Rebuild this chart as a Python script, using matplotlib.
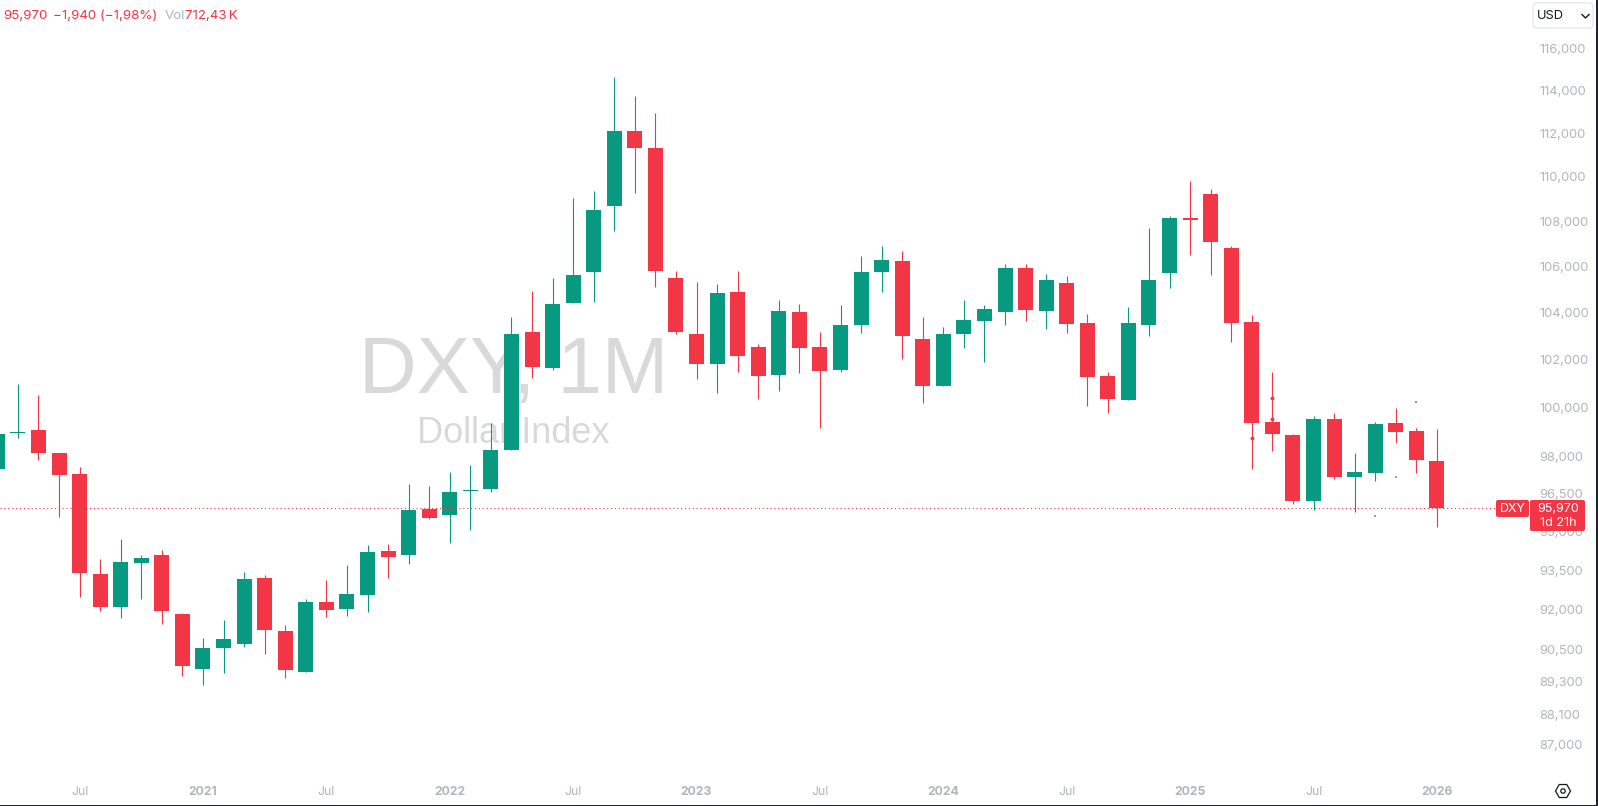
import numpy as np
import pandas as pd
import matplotlib
matplotlib.use('Agg')
import matplotlib.pyplot as plt
from matplotlib.patches import FancyBboxPatch, RegularPolygon, Circle, Rectangle
from matplotlib.lines import Line2D
from matplotlib.ticker import NullLocator
from matplotlib.transforms import IdentityTransform, ScaledTranslation

# monthly candles, Mar 2020 to Jan 2026
months = pd.date_range('2020-03-01', periods=71, freq='MS')

opens = [97.53, 98.99, 99.11, 98.17, 97.32, 93.38, 92.11, 93.80, 94.11, 91.85, 89.78, 90.56,
         90.71, 93.23, 91.20, 89.70, 92.30, 92.04, 92.57, 94.27, 94.11, 95.92, 95.69, 96.64,
         96.72, 98.29, 103.22, 101.69, 104.45, 105.80, 108.73, 112.15, 111.36, 105.54, 103.11, 101.85,
         104.93, 102.57, 101.39, 104.06, 102.57, 101.60, 103.50, 105.80, 106.29, 102.91, 100.93, 103.11,
         103.68, 104.06, 105.98, 104.10, 105.32, 103.59, 101.35, 100.35, 103.50, 105.76, 108.17, 109.27,
         106.85, 103.63, 99.45, 98.90, 96.24, 99.57, 97.20, 97.36, 99.40, 99.07, 97.85]
highs = [99.30, 101.01, 100.56, 98.17, 97.61, 93.96, 94.74, 94.11, 94.31, 91.88, 90.97, 91.62,
         93.46, 93.34, 91.43, 92.42, 93.15, 93.73, 94.50, 94.54, 96.92, 96.84, 97.40, 97.69,
         99.40, 103.84, 104.97, 105.54, 109.09, 109.41, 114.68, 113.79, 112.99, 105.85, 105.36, 105.28,
         105.85, 102.70, 104.58, 104.40, 103.22, 104.36, 106.51, 106.94, 106.72, 103.84, 103.41, 104.58,
         104.36, 106.15, 106.15, 105.71, 105.62, 103.98, 101.52, 104.27, 107.75, 108.28, 109.85, 109.50,
         106.94, 103.94, 101.52, 98.95, 99.69, 99.81, 98.17, 99.45, 100.02, 99.20, 99.16]
lows = [97.20, 98.78, 97.89, 95.61, 92.50, 91.96, 91.70, 92.42, 91.47, 89.52, 89.19, 89.66,
        90.63, 90.37, 89.48, 89.70, 91.73, 91.77, 91.92, 93.23, 93.77, 95.53, 94.58, 95.09,
        96.60, 98.29, 101.27, 101.60, 104.45, 104.49, 107.61, 109.32, 105.14, 103.11, 101.22, 100.64,
        101.52, 100.39, 100.72, 101.47, 99.20, 101.52, 103.16, 104.93, 102.06, 100.23, 100.93, 102.53,
        101.94, 103.50, 103.68, 103.33, 103.16, 100.10, 99.81, 100.35, 103.04, 105.10, 106.55, 105.67,
        102.78, 97.53, 98.25, 96.12, 95.88, 97.12, 95.81, 97.04, 98.58, 97.36, 95.21]
closes = [98.94, 99.03, 98.17, 97.28, 93.42, 92.11, 93.84, 94.00, 91.96, 89.92, 90.56, 90.90,
          93.19, 91.24, 89.74, 92.30, 92.00, 92.61, 94.23, 94.04, 95.88, 95.57, 96.60, 96.68,
          98.29, 103.14, 101.73, 104.41, 105.67, 108.55, 112.15, 111.36, 105.85, 103.20, 101.85, 104.88,
          102.19, 101.35, 104.10, 102.53, 101.56, 103.50, 105.80, 106.33, 103.04, 100.93, 103.11, 103.72,
          104.19, 105.98, 104.14, 105.45, 103.55, 101.30, 100.39, 103.59, 105.45, 108.19, 108.10, 107.12,
          103.59, 99.40, 98.95, 96.24, 99.57, 97.20, 97.40, 99.37, 99.03, 97.91, 95.97]

# stray dots on the right side of the chart
red_dot_idx = [61, 62, 62]
red_dot_val = [98.79, 100.43, 99.57]
grey_dot_idx = [69, 68, 67]
grey_dot_val = [100.27, 97.20, 95.65]

last_price = 95.97
ytick_values = [116, 114, 112, 110, 108, 106, 104, 102, 100, 98, 96.5, 95, 93.5, 92, 90.5, 89.3, 88.1, 87]
ytick_labels = ['116,000', '114,000', '112,000', '110,000', '108,000', '106,000', '104,000', '102,000',
                '100,000', '98,000', '96,500', '95,000', '93,500', '92,000', '90,500', '89,300', '88,100', '87,000']

GREEN = '#089981'
RED = '#f23645'
GREY = '#b2b5be'
FONT = 'Inter'
W, H = 1598, 806

plt.rcParams['font.family'] = [FONT, 'DejaVu Sans']

fig = plt.figure(figsize=(W / 100, H / 100), dpi=100, facecolor='white')
pane_w, pane_h = 1528, 778
ax = fig.add_axes([0, 1 - pane_h / H, pane_w / W, pane_h / H])

x = np.arange(len(months))
o = np.array(opens)
c = np.array(closes)
colors = [RED if c[i] < o[i] else GREEN for i in x]

# watermark sits behind the candles
ax.text(514 / pane_w, 1 - 393 / pane_h, 'DXY, 1M', transform=ax.transAxes, ha='center', va='baseline',
        fontsize=57.5, color='#d9d9d9', family='Liberation Sans', zorder=1)
ax.text(513 / pane_w, 1 - 443 / pane_h, 'Dollar Index', transform=ax.transAxes, ha='center', va='baseline',
        fontsize=26, color='#d9d9d9', family='Liberation Sans', zorder=1)

ax.vlines(x, lows, highs, colors=colors, linewidth=0.8, zorder=2)
ax.bar(x, np.abs(c - o), bottom=np.minimum(o, c), width=0.73, color=colors, linewidth=0, zorder=3)
ax.scatter(red_dot_idx, red_dot_val, s=8, color=RED, linewidth=0, zorder=4)
ax.scatter(grey_dot_idx, grey_dot_val, s=1.5, color='#9598a1', linewidth=0, marker='s', zorder=4)
ax.axhline(last_price, color=RED, linewidth=0.8, linestyle=(0, (1, 2.5)), zorder=5)

ax.set_yscale('log')
ax.set_xlim(0.13, 74.43)
ax.set_ylim(85.84, 118.39)
for s in ax.spines.values():
    s.set_visible(False)

ax.yaxis.tick_right()
ax.set_yticks(ytick_values)
ax.set_yticklabels(ytick_labels)
ax.yaxis.set_minor_locator(NullLocator())
ax.tick_params(axis='y', length=0, pad=8, labelsize=9.3, labelcolor=GREY)
# labels sit a pixel above the tick level
up = ScaledTranslation(0, 1 / 100, fig.dpi_scale_trans)
for lab in ax.get_yticklabels():
    lab.set_transform(lab.get_transform() + up)

tick_pos = [i for i in x if months[i].month in (1, 7)]
tick_text = [str(months[i].year) if months[i].month == 1 else 'Jul' for i in tick_pos]
ax.set_xticks(tick_pos)
ax.set_xticklabels(tick_text)
ax.tick_params(axis='x', length=0, pad=6, labelsize=8.8, labelcolor=GREY)
for lab in ax.get_xticklabels():
    if lab.get_text() != 'Jul':
        lab.set_fontweight('bold')

# header line, positions in pixels from the top left
def px_text(px, py, s, **kw):
    fig.text(px / W, 1 - py / H, s, va='center', zorder=6, **kw)

px_text(3, 16, '95,970', color=RED, fontsize=9.6)
px_text(53, 16, '\u22121,940 (\u22121,98%)', color=RED, fontsize=9.6)
px_text(165, 16, 'Vol', color=GREY, fontsize=9.6)
px_text(185, 16, '712,43\u2009K', color=RED, fontsize=9.6)

# drawn directly in pixels
idt = IdentityTransform()
def box(x0, y0, x1, y1, face, edge='none', r=2):
    fig.add_artist(FancyBboxPatch((x0 + r, H - y1 + r), x1 - x0 - 2 * r, y1 - y0 - 2 * r,
                                  boxstyle=f'round,pad={r},rounding_size={r}', facecolor=face,
                                  edgecolor=edge, linewidth=0.8, transform=idt, zorder=5))

# last price labels
box(1496, 500, 1529, 517, RED)
box(1530, 500, 1585, 531, RED)
px_text(1512.5, 508.5, 'DXY', color='white', fontsize=9, ha='center')
px_text(1558, 508.5, '95,970', color='white', fontsize=9, ha='center')
px_text(1558, 522.5, '1d 21h', color='white', fontsize=9, ha='center')

# currency selector
box(1533, 3, 1593, 28, 'white', edge='#e0e3eb', r=4)
px_text(1537, 16, 'USD', color='#131722', fontsize=9.2)
fig.add_artist(Line2D([1582, 1585.5, 1589], [H - 14.5, H - 18, H - 14.5], color='#131722',
                      linewidth=1, transform=idt, zorder=6))

# settings icon
fig.add_artist(RegularPolygon((1563, H - 791), 6, radius=7.5, orientation=np.pi / 6, facecolor='none',
                              edgecolor='#131722', linewidth=0.9, transform=idt, zorder=6))
fig.add_artist(Circle((1563, H - 791), 2.2, facecolor='none', edgecolor='#131722', linewidth=0.9,
                      transform=idt, zorder=6))

# dark edge of the screenshot
fig.add_artist(Rectangle((W - 2, 0), 2, H, facecolor='#1e222d', edgecolor='none', transform=idt, zorder=7))
fig.add_artist(Rectangle((0, 0), W, 1.5, facecolor='#1e222d', edgecolor='none', transform=idt, zorder=7))

fig.savefig('out.png', dpi=100)
